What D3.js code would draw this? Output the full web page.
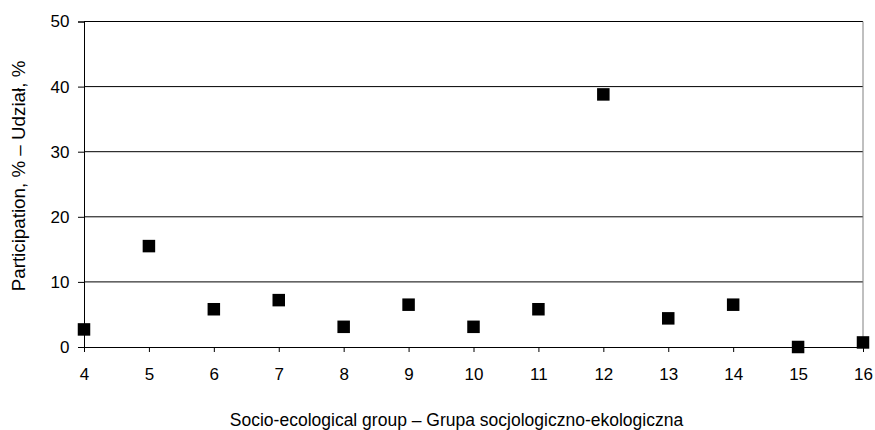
<!DOCTYPE html>
<html>
<head>
<meta charset="utf-8">
<script src="https://cdn.jsdelivr.net/npm/d3@7"></script>
<style>
  body { margin: 0; background: #fff; }
  text { font-family: "Liberation Sans", Arial, sans-serif; fill: #000; }
</style>
</head>
<body>
<div id="chart"></div>
<script>
// data
var groups = [4, 5, 6, 7, 8, 9, 10, 11, 12, 13, 14, 15, 16];
var participation = [2.7, 15.5, 5.8, 7.2, 3.1, 6.5, 3.1, 5.8, 38.8, 4.4, 6.5, 0, 0.7];
var yTicks = [0, 10, 20, 30, 40, 50];
var xTitle = "Socio-ecological group – Grupa socjologiczno-ekologiczna";
var yTitle = "Participation, % – Udział, %";

var margin = { top: 21.5, right: 12, bottom: 83, left: 84 };
var width = 875 - margin.left - margin.right;
var height = 430 - margin.top - margin.bottom;

var svg = d3
  .select("#chart")
  .append("svg")
  .attr("width", 875)
  .attr("height", 430)
  .append("g")
  .attr("transform", "translate(" + margin.left + "," + margin.top + ")");

var x = d3.scaleLinear().domain([4, 16]).range([0, width]);
var y = d3.scaleLinear().domain([0, 50]).range([height, 0]);

// gridlines
svg
  .selectAll(".grid")
  .data(yTicks.filter(function (d) { return d > 0; }))
  .enter()
  .append("line")
  .attr("class", "grid")
  .attr("x1", 0)
  .attr("x2", width)
  .attr("y1", function (d) { return y(d); })
  .attr("y2", function (d) { return y(d); })
  .attr("stroke", "#000")
  .attr("stroke-width", 1);

// right border (gray)
svg
  .append("line")
  .attr("x1", width)
  .attr("x2", width)
  .attr("y1", 0)
  .attr("y2", height)
  .attr("stroke", "#808080")
  .attr("stroke-width", 1);

// Y axis
var yAxis = svg
  .append("g")
  .call(d3.axisLeft(y).tickValues(yTicks).tickSize(6).tickPadding(8.5));
yAxis.select(".domain").attr("stroke", "#000");
yAxis.selectAll("text").style("font-size", "17px");

// X axis
var xAxis = svg
  .append("g")
  .attr("transform", "translate(0," + height + ")")
  .call(d3.axisBottom(x).tickValues(groups).tickFormat(d3.format("d")).tickSize(5).tickPadding(16));
xAxis.select(".domain").attr("stroke", "#000");
xAxis.selectAll("text").style("font-size", "17px");

// points
svg
  .selectAll(".pt")
  .data(groups)
  .enter()
  .append("rect")
  .attr("class", "pt")
  .attr("x", function (d) { return x(d) - 6.25; })
  .attr("y", function (d, i) { return y(participation[i]) - 6.25; })
  .attr("width", 12.5)
  .attr("height", 12.5)
  .attr("fill", "#000");

// axis titles
svg
  .append("text")
  .attr("x", 456.5 - margin.left)
  .attr("y", 425.5 - margin.top)
  .style("text-anchor", "middle")
  .style("font-size", "17.5px")
  .text(xTitle);

svg
  .append("text")
  .attr("transform", "rotate(-90)")
  .attr("x", -(176 - margin.top))
  .attr("y", 25 - margin.left)
  .style("text-anchor", "middle")
  .style("font-size", "18.8px")
  .text(yTitle);
</script>
</body>
</html>
